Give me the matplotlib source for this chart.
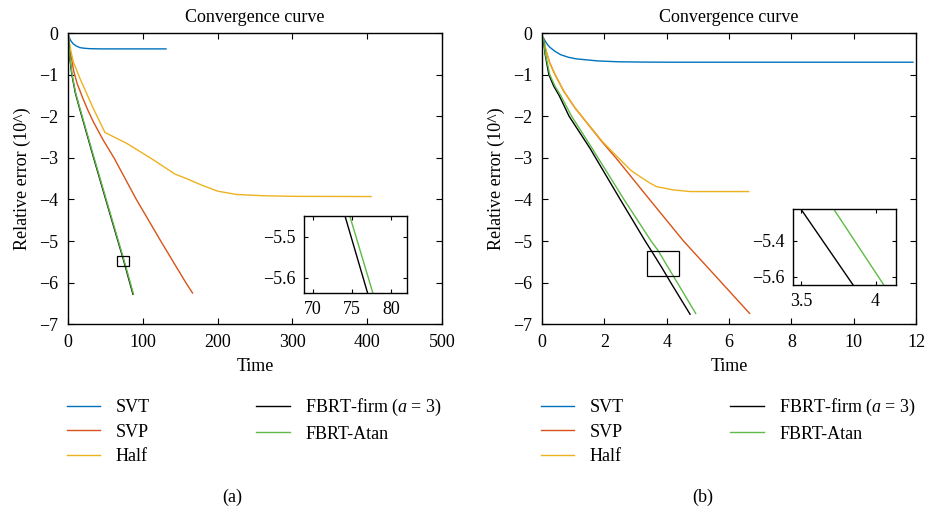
import matplotlib
matplotlib.use("Agg")
import matplotlib.pyplot as plt
from matplotlib.patches import Rectangle

plt.rcParams['font.family'] = ['Liberation Serif', 'DejaVu Serif']
plt.rcParams['mathtext.fontset'] = 'custom'
plt.rcParams['mathtext.it'] = 'Liberation Serif:italic'
plt.rcParams['mathtext.rm'] = 'Liberation Serif'
plt.rcParams['font.size'] = 13
plt.rcParams['axes.unicode_minus'] = True

labels = ['SVT', 'SVP', 'Half', 'FBRT-firm ($a$ = 3)', 'FBRT-Atan']
colors = ['#0072BD', '#D95319', '#EDB120', '#000000', '#5DBB46']

# ---- panel (a) ----
a_svt_x = [0, 2, 4, 7.1, 11, 16, 22, 29.4, 45, 131]
a_svt_y = [0, -0.12, -0.19, -0.26, -0.31, -0.35, -0.365, -0.375, -0.38, -0.38]
a_svp_x = [0, 2, 4.5, 7.5, 12, 19.5, 26.5, 33.8, 47, 61.5, 91.4, 124, 157.5, 166.5]
a_svp_y = [0, -0.3, -0.58, -0.9, -1.2, -1.55, -1.85, -2.13, -2.57, -3, -4, -5, -6, -6.25]
a_half_x = [0, 3.5, 7.1, 16, 33.8, 49.5, 78.4, 110, 143, 158.6, 178, 200, 225, 260, 300, 405]
a_half_y = [0, -0.4, -0.69, -1.09, -1.81, -2.39, -2.65, -3.0, -3.39, -3.5, -3.65, -3.8, -3.88, -3.91, -3.925, -3.93]
a_firm_x = [0, 1.2, 2.5, 5.2, 10, 15.5, 18.5, 34.3, 50.5, 66.8, 73.35, 77.97, 86.9]
a_firm_y = [0, -0.3, -0.6, -1, -1.45, -1.81, -2, -3, -4, -5, -5.4, -5.7, -6.28]
a_atan_x = [0, 1.3, 2.7, 5.5, 10.4, 16, 19, 34.9, 51.1, 67.4, 73.95, 78.67, 87.6]
a_atan_y = [0, -0.3, -0.6, -1, -1.45, -1.81, -2, -3, -4, -5, -5.4, -5.7, -6.28]
a_box = [65.9, 81.1, -5.59, -5.36]
a_inset_lim = [68.8, 82.0, -5.637, -5.449]
a_inset_xt = [70, 75, 80]
a_inset_yt = [-5.6, -5.5]

# ---- panel (b) ----
b_svt_x = [0.04, 0.15, 0.25, 0.42, 0.6, 0.84, 1.1, 1.38, 1.8, 2.45, 3.2, 4.05, 11.9]
b_svt_y = [-0.11, -0.25, -0.34, -0.44, -0.52, -0.58, -0.62, -0.64, -0.67, -0.69, -0.697, -0.7, -0.7]
b_svp_x = [0.04, 0.12, 0.25, 0.42, 0.7, 1.06, 1.91, 2.37, 3.45, 4.54, 5.76, 6.66]
b_svp_y = [-0.11, -0.4, -0.72, -1, -1.4, -1.8, -2.6, -3, -4, -5, -6, -6.74]
b_half_x = [0.04, 0.12, 0.25, 0.42, 0.7, 1.06, 1.93, 2.45, 2.85, 3.14, 3.45, 3.67, 4.2, 4.75, 6.63]
b_half_y = [-0.11, -0.4, -0.72, -1, -1.4, -1.8, -2.6, -3.0, -3.3, -3.45, -3.6, -3.69, -3.77, -3.81, -3.81]
b_firm_x = [0.04, 0.1, 0.22, 0.38, 0.55, 0.87, 1.54, 2.51, 3.31, 3.5, 3.85, 4.13, 4.75]
b_firm_y = [-0.11, -0.5, -1, -1.28, -1.5, -2, -2.77, -4, -5, -5.224, -5.646, -6, -6.76]
b_atan_x = [0.04, 0.11, 0.25, 0.42, 0.6, 0.95, 1.54, 2.63, 3.5, 3.72, 4.056, 4.34, 4.93]
b_atan_y = [-0.11, -0.5, -1, -1.28, -1.5, -2, -2.69, -4, -5, -5.224, -5.646, -6, -6.74]
b_box = [3.37, 4.38, -5.84, -5.25]
b_inset_lim = [3.444, 4.14, -5.646, -5.224]
b_inset_xt = [3.5, 4]
b_inset_yt = [-5.6, -5.4]


def style_axes(ax):
    ax.tick_params(direction='in', top=True, right=True, length=4, width=0.8)
    for s in ax.spines.values():
        s.set_linewidth(1.0)


def draw_lines(ax, series, lw=1.0):
    hs = []
    for (x, y), c, lab in zip(series, colors, labels):
        h, = ax.plot(x, y, color=c, lw=lw, label=lab)
        hs.append(h)
    return hs


fig = plt.figure(figsize=(9.26, 5.09), dpi=100)

panels = [
    (0.0734, [(a_svt_x, a_svt_y), (a_svp_x, a_svp_y), (a_half_x, a_half_y),
              (a_firm_x, a_firm_y), (a_atan_x, a_atan_y)],
     (0, 500), range(0, 501, 100), a_box, a_inset_lim, a_inset_xt, a_inset_yt,
     [0.328, 0.4244, 0.111, 0.151], 0.251, '(a)'),
    (0.5853, [(b_svt_x, b_svt_y), (b_svp_x, b_svp_y), (b_half_x, b_half_y),
              (b_firm_x, b_firm_y), (b_atan_x, b_atan_y)],
     (0, 12), range(0, 13, 2), b_box, b_inset_lim, b_inset_xt, b_inset_yt,
     [0.856, 0.44, 0.112, 0.149], 0.759, '(b)'),
]

for left, series, xlim, xt, box, ilim, ixt, iyt, ipos, lab_x, tag in panels:
    ax = fig.add_axes([left, 0.363, 0.404, 0.572])
    hs = draw_lines(ax, series)
    ax.set_xlim(*xlim)
    ax.set_ylim(-7, 0)
    ax.set_xticks(list(xt))
    ax.set_yticks(range(-7, 1))
    ax.set_title('Convergence curve', fontsize=13, pad=8)
    ax.set_xlabel('Time', labelpad=5)
    ax.set_ylabel('Relative error (10^)', labelpad=6)
    style_axes(ax)
    ax.tick_params(pad=7)
    ax.add_patch(Rectangle((box[0], box[2]), box[1] - box[0], box[3] - box[2],
                           fill=False, ec='black', lw=0.9, zorder=5))

    # zoomed inset
    ins = fig.add_axes(ipos)
    draw_lines(ins, series)
    ins.set_xlim(ilim[0], ilim[1])
    ins.set_ylim(ilim[2], ilim[3])
    ins.set_xticks(ixt)
    ins.set_xticklabels([f'{v:g}' for v in ixt])
    ins.set_yticks(iyt)
    style_axes(ins)
    ins.tick_params(length=3, pad=6)

    fig.legend(handles=hs, loc='upper left',
               bbox_to_anchor=(left - 0.001, 1 - 397 / 509), ncol=2,
               frameon=False, borderpad=0, borderaxespad=0, handlelength=1.85,
               handletextpad=0.85, columnspacing=5.9, labelspacing=0.42,
               fontsize=13)
    fig.text(lab_x, 1 - 497 / 509, tag, ha='center', va='center', fontsize=13)

fig.savefig('out.png', dpi=100)
